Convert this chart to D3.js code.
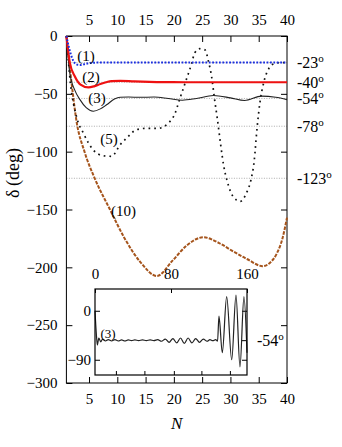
<!DOCTYPE html>
<html>
<head>
<meta charset="utf-8">
<script src="https://cdn.jsdelivr.net/npm/d3@7"></script>
<style>
body { margin: 0; background: #fff; }
svg text { font-family: "Liberation Serif", "Times New Roman", Times, serif !important; fill: #000; }
</style>
</head>
<body>
<div id="chart"></div>
<script>
// values: [N, delta]
var curve1 = [[1,0],[1.5,-11],[2,-19],[2.5,-23.5],[3,-24.8],[3.6,-25],[4.3,-24.2],[5.2,-23.3],[6.5,-23],[40,-23]];
var curve2 = [[1,0],[1.6,-23],[2.5,-35],[3.5,-42],[4.9,-44.5],[6,-43.3],[7,-41.5],[8,-40],[9,-39],[10.5,-38.8],[13,-39.3],[17,-39.8],[22,-40],[40,-40]];
var curve3 = [[1,0],[1.6,-32],[2.5,-47],[3.4,-55],[4.5,-62],[5.75,-65],[7,-63],[8.1,-59.5],[9.5,-54.5],[10.5,-53],[12,-52.8],[14,-53],[16.5,-52.8],[19,-54],[21.5,-55.5],[24,-54],[27,-51.5],[30,-53.5],[32.5,-55.8],[35.5,-52],[38,-53],[40,-55]];
var curve5 = [[1,0],[1.7,-40],[2.8,-70],[4,-84],[5.75,-98.5],[7.5,-103.5],[9,-104],[10.5,-94],[11.7,-88],[13.4,-81],[15.2,-79.8],[17.2,-79.8],[19,-75.5],[20.2,-67],[21,-55],[21.9,-42],[23.1,-24.5],[23.7,-14.5],[24.6,-11],[25.5,-12],[26.1,-21.6],[26.7,-36],[27.2,-55],[27.7,-72],[28.3,-95],[28.8,-112],[29.4,-125],[30.5,-139],[31.7,-143],[32.9,-135],[33.6,-125],[34.2,-108],[34.7,-80],[35.2,-58],[35.9,-40],[36.8,-28],[37.5,-24.5],[39,-23],[40,-23]];
var curve10 = [[1,0],[1.9,-40],[2.8,-74],[4.2,-100],[6,-123],[8.7,-150],[11.3,-175],[14,-195],[17,-207.5],[19.8,-194],[22.3,-181],[25.2,-174],[28,-179],[30.4,-186],[33,-193],[35.7,-199],[37,-196],[38.2,-188],[39.2,-175],[40,-157]];
var curveLabels = ["(1)", "(2)", "(3)", "(5)", "(10)"];
var refLevels = [-23, -40, -54, -78, -123];
var xTicks = [5,10,15,20,25,30,35,40];
var yTicks = [0,-50,-100,-150,-200,-250,-300];

// inset: curve (3) over a longer range
var insetCurve = [[0,0],[1.5,-45],[2.5,-63],[4,-50],[6,-57],[8,-52],[11,-55.5],[14,-53],[17.5,-55.5],[21,-53],[24.5,-55.5],[28,-53.5],[31.5,-55.5],[35,-53.5],[38.5,-55],[42,-53.5],[46,-55],[50,-53.5],[54,-55],[58,-53.5],[62,-55],[66,-53],[70,-56],[74,-52],[78,-58],[82,-51],[86,-59],[90,-50],[94,-60],[98,-50],[102,-59],[106,-51],[110,-58],[114,-52],[118,-56],[121,-53],[124,-55],[127,-53],[129,-56],[130.5,-10],[134,-77],[138.6,26],[143.9,-90],[148.4,29],[152.6,-103],[156.8,26],[160,-77]];
var insetXTicks = [0,80,160];
var insetYTicks = [0,-90];
var insetRight = [0,-54,-90];

var svgWidth = 342, svgHeight = 447;
var serif = "'Liberation Serif', 'Times New Roman', serif";

var svg = d3.select("#chart").append("svg")
    .attr("width", svgWidth)
    .attr("height", svgHeight)
    .attr("font-family", serif);

var x = d3.scaleLinear().domain([1, 40]).range([66.4, 287]);
var y = d3.scaleLinear().domain([-300, 0]).range([383, 36]);

// reference level lines
svg.selectAll(".ref")
    .data(refLevels)
    .enter()
    .append("line")
    .attr("x1", x(1)).attr("x2", x(40))
    .attr("y1", d => y(d)).attr("y2", d => y(d))
    .attr("stroke", "#888")
    .attr("stroke-width", 0.7)
    .attr("stroke-dasharray", "1 1.5");

function styleAxis(g) {
    g.attr("font-family", serif).attr("font-size", 15);
    g.select(".domain").remove();
    g.selectAll("line").attr("stroke", "#000");
}

svg.append("g").attr("transform", `translate(0, ${y(-300)})`)
    .call(d3.axisBottom(x).tickValues(xTicks).tickSize(-6).tickSizeOuter(0).tickPadding(10))
    .call(styleAxis);
svg.append("g").attr("transform", `translate(0, ${y(0)})`)
    .call(d3.axisTop(x).tickValues(xTicks).tickSize(-6).tickSizeOuter(0).tickPadding(11))
    .call(styleAxis);
svg.append("g").attr("transform", `translate(${x(1)}, 0)`)
    .call(d3.axisLeft(y).tickValues(yTicks).tickSize(-6).tickSizeOuter(0).tickPadding(9))
    .call(styleAxis);
svg.append("g").attr("transform", `translate(${x(40)}, 0)`)
    .call(d3.axisRight(y).tickValues(yTicks).tickSize(-6).tickSizeOuter(0).tickFormat(""))
    .call(styleAxis);

svg.append("rect")
    .attr("x", x(1)).attr("y", y(0))
    .attr("width", x(40) - x(1)).attr("height", y(-300) - y(0))
    .attr("fill", "none").attr("stroke", "#000").attr("stroke-width", 1);

var line = d3.line()
    .x(d => x(d[0]))
    .y(d => y(d[1]))
    .curve(d3.curveMonotoneX);

svg.append("path").datum(curve10).attr("d", line)
    .attr("fill", "none").attr("stroke", "#a5541c").attr("stroke-width", 2)
    .attr("stroke-dasharray", "3.5 1.3");
svg.append("path").datum(curve5).attr("d", line)
    .attr("fill", "none").attr("stroke", "#111").attr("stroke-width", 1.7)
    .attr("stroke-dasharray", "1.7 4");
svg.append("path").datum(curve3).attr("d", line)
    .attr("fill", "none").attr("stroke", "#222").attr("stroke-width", 1.1);
svg.append("path").datum(curve2).attr("d", line)
    .attr("fill", "none").attr("stroke", "#ee1111").attr("stroke-width", 2.2);
svg.append("path").datum(curve1).attr("d", line)
    .attr("fill", "none").attr("stroke", "#1a2ee0").attr("stroke-width", 2)
    .attr("stroke-dasharray", "1.8 1.6");

// curve labels
var labelPos = {"(1)": [86, 56], "(2)": [91, 77], "(3)": [97, 98], "(5)": [109, 139], "(10)": [123.5, 211]};
svg.selectAll(".clab")
    .data(curveLabels)
    .enter()
    .append("text")
    .attr("x", d => labelPos[d][0])
    .attr("y", d => labelPos[d][1] + 5)
    .attr("text-anchor", "middle")
    .attr("font-size", 15)
    .text(d => d);

// right-hand level labels
var rl = svg.selectAll(".rlab")
    .data(refLevels)
    .enter()
    .append("text")
    .attr("x", 297)
    .attr("y", d => y(d) + 5.5)
    .attr("font-size", 16);
rl.append("tspan").text(d => d);
rl.append("tspan").attr("dy", -6).attr("font-size", 11).text("o");

// axis titles
svg.append("text")
    .attr("x", (x(1) + x(40)) / 2)
    .attr("y", 429)
    .attr("text-anchor", "middle")
    .attr("font-size", 17)
    .attr("font-style", "italic")
    .text("N");
svg.append("text")
    .attr("transform", "translate(19, 173) rotate(-90)")
    .attr("text-anchor", "middle")
    .attr("font-size", 18)
    .text("\u03b4\u2009(deg)");

// inset
var ix = d3.scaleLinear().domain([0, 160]).range([95, 247]);
var iy = d3.scaleLinear().domain([-118, 40]).range([375, 289]);

var inset = svg.append("g");
inset.append("rect")
    .attr("x", ix(0)).attr("y", iy(40))
    .attr("width", ix(160) - ix(0)).attr("height", iy(-118) - iy(40))
    .attr("fill", "#fff");

function styleInset(g) {
    g.attr("font-family", serif).attr("font-size", 15);
    g.select(".domain").remove();
    g.selectAll("line").attr("stroke", "#000");
}

inset.append("g").attr("transform", `translate(0, ${iy(40)})`)
    .call(d3.axisTop(ix).tickValues(insetXTicks).tickSize(-4).tickSizeOuter(0).tickPadding(10))
    .call(styleInset);
inset.append("g").attr("transform", `translate(0, ${iy(-118)})`)
    .call(d3.axisBottom(ix).tickValues([22, 52, 83, 112, 142]).tickSize(-4).tickSizeOuter(0).tickFormat(""))
    .call(styleInset);
inset.append("g").attr("transform", `translate(${ix(0)}, 0)`)
    .call(d3.axisLeft(iy).tickValues(insetYTicks).tickSize(-5).tickSizeOuter(0).tickPadding(4))
    .call(styleInset);
inset.append("g").attr("transform", `translate(${ix(160)}, 0)`)
    .call(d3.axisRight(iy).tickValues(insetRight).tickSize(-5).tickSizeOuter(0).tickFormat(""))
    .call(styleInset);

var iline = d3.line()
    .x(d => ix(d[0]))
    .y(d => iy(d[1]))
    .curve(d3.curveMonotoneX);

inset.append("path").datum(insetCurve).attr("d", iline)
    .attr("fill", "none").attr("stroke", "#222").attr("stroke-width", 1.2);

inset.append("rect")
    .attr("x", ix(0)).attr("y", iy(40))
    .attr("width", ix(160) - ix(0)).attr("height", iy(-118) - iy(40))
    .attr("fill", "none").attr("stroke", "#000").attr("stroke-width", 1.2);

inset.append("text")
    .attr("x", 108).attr("y", 338)
    .attr("text-anchor", "middle")
    .attr("font-size", 13)
    .text("(3)");

var il = inset.append("text")
    .attr("x", 257).attr("y", iy(-54) + 6)
    .attr("font-size", 16);
il.append("tspan").text("-54");
il.append("tspan").attr("dy", -6).attr("font-size", 11).text("o");
</script>
</body>
</html>
